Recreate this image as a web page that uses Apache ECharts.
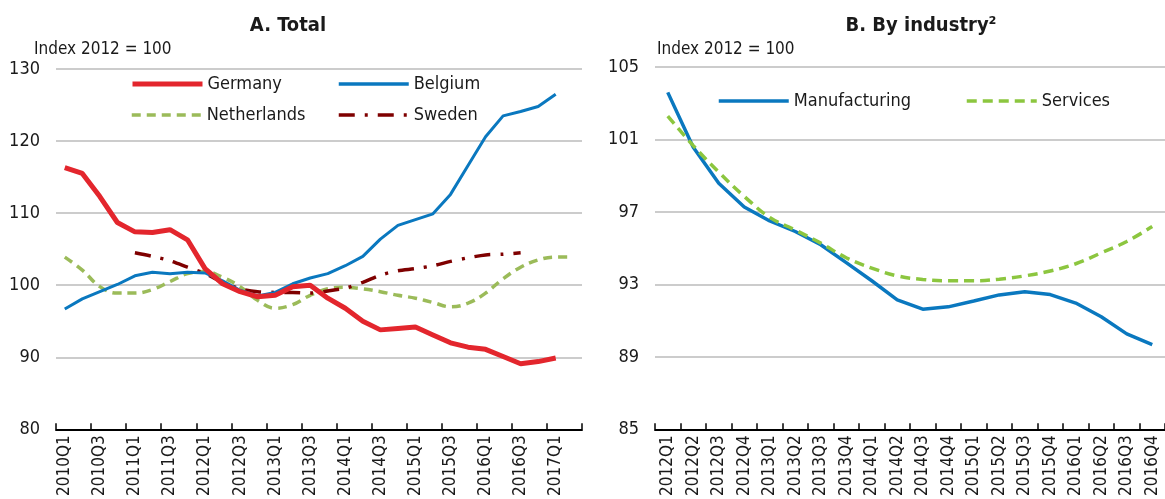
<!DOCTYPE html>
<html>
<head>
<meta charset="utf-8">
<script src="https://cdn.jsdelivr.net/npm/echarts@6/dist/echarts.min.js"></script>
<style>
html,body{margin:0;padding:0;background:#fff;}
#c{width:1165px;height:499px;}
</style>
</head>
<body>
<div id="c"></div>
<script>
// ---- Data ----
const leftCategories = ['2010Q1','2010Q2','2010Q3','2010Q4','2011Q1','2011Q2','2011Q3','2011Q4',
  '2012Q1','2012Q2','2012Q3','2012Q4','2013Q1','2013Q2','2013Q3','2013Q4',
  '2014Q1','2014Q2','2014Q3','2014Q4','2015Q1','2015Q2','2015Q3','2015Q4',
  '2016Q1','2016Q2','2016Q3','2016Q4','2017Q1','2017Q2'];
const germany = [116.3,115.5,112.3,108.7,107.4,107.3,107.7,106.3,102.3,100.2,99.1,98.4,98.6,99.8,100.0,98.2,
  96.8,95.0,93.8,94.0,94.2,93.1,92.0,91.4,91.1,90.1,89.1,89.4,89.9,null];
const belgium = [96.7,98.1,99.1,100.1,101.3,101.8,101.6,101.8,101.7,100.6,99.3,98.5,99.0,100.2,101.0,101.6,
  102.7,104.0,106.4,108.3,109.1,109.9,112.6,116.6,120.6,123.5,124.1,124.8,126.5,null];
const netherlands = [103.9,102.1,99.8,98.9,98.9,99.4,100.5,101.6,101.9,101.1,99.8,97.9,96.8,97.3,98.6,99.5,
  99.7,99.5,99.1,98.6,98.2,97.6,97.0,97.5,98.9,100.9,102.5,103.5,103.9,103.9];
const sweden = [null,null,null,null,104.5,104.0,103.4,102.5,101.6,100.4,99.5,99.1,99.0,99.0,98.9,99.2,
  99.6,100.4,101.4,102.0,102.3,102.7,103.3,103.8,104.2,104.3,104.5,null,null,null];

const rightCategories = ['2012Q1','2012Q2','2012Q3','2012Q4','2013Q1','2013Q2','2013Q3','2013Q4',
  '2014Q1','2014Q2','2014Q3','2014Q4','2015Q1','2015Q2','2015Q3','2015Q4',
  '2016Q1','2016Q2','2016Q3','2016Q4'];
const manufacturing = [103.6,100.57,98.58,97.27,96.5,95.92,95.19,94.2,93.2,92.15,91.63,91.76,
  92.08,92.42,92.6,92.44,91.97,91.21,90.27,89.68];
const services = [102.29,100.66,99.2,97.86,96.7,96.0,95.28,94.47,93.9,93.47,93.27,93.2,
  93.2,93.29,93.47,93.74,94.14,94.74,95.37,96.19];

const leftTicks = {min: 80, max: 130, interval: 10};
const rightTicks = {min: 85, max: 105, interval: 4};

// ---- Style ----
const FONT = "'Liberation Sans Narrow','Arial Narrow','DejaVu Sans Condensed',sans-serif";
const TXT = '#1a1a1a';
const RED = '#e3262d', BLUE = '#0a78bf', OLIVE = '#9bbb59', DKRED = '#7f0000', GREEN = '#8cc63f';

function xAxis(gridIndex, cats, interval){
  return {
    type: 'category', gridIndex, data: cats, boundaryGap: true,
    axisLine: {show: true, lineStyle: {color: '#000', width: 2}},
    axisTick: {show: true, inside: true, length: 6, interval, lineStyle: {color: '#000', width: 1.5}},
    axisLabel: {interval, rotate: 90, fontSize: 17, color: TXT, fontFamily: FONT, margin: 6},
    splitLine: {show: false}
  };
}
function yAxis(gridIndex, t){
  return {
    type: 'value', gridIndex, min: t.min, max: t.max, interval: t.interval,
    axisLine: {show: false}, axisTick: {show: false},
    axisLabel: {fontSize: 18, color: TXT, fontFamily: FONT, margin: 16},
    splitLine: {show: true, lineStyle: {color: '#cccccc', width: 2}}
  };
}
function leg(name, left, top, lw){
  return {data: [name], left, top, padding: 0, itemWidth: 70, itemHeight: 14,
    itemStyle: {opacity: 0}, lineStyle: {width: lw},
    textStyle: {fontSize: 18, color: TXT, fontFamily: FONT}, selectedMode: false};
}

const option = {
  backgroundColor: '#fff',
  animation: false,
  title: [
    {text: 'A. Total', left: 283, top: 11, textAlign: 'center',
     textStyle: {fontSize: 20, fontWeight: 'bold', color: TXT, fontFamily: FONT}},
    {text: 'B. By industry²', left: 916, top: 11, textAlign: 'center',
     textStyle: {fontSize: 20, fontWeight: 'bold', color: TXT, fontFamily: FONT}},
    {text: 'Index 2012 = 100', left: 29, top: 36,
     textStyle: {fontSize: 17, fontWeight: 'normal', color: TXT, fontFamily: FONT}},
    {text: 'Index 2012 = 100', left: 652, top: 36,
     textStyle: {fontSize: 17, fontWeight: 'normal', color: TXT, fontFamily: FONT}}
  ],
  legend: [
    leg('Germany', 130, 75, 5), leg('Belgium', 337, 75, 3.5),
    leg('Netherlands', 130, 106, 3.5), leg('Sweden', 337, 106, 3.5),
    leg('Manufacturing', 717, 92, 3.5), leg('Services', 965, 92, 3.5)
  ],
  grid: [
    {left: 56, top: 69, width: 526, height: 364},
    {left: 655, top: 67, width: 513, height: 367}
  ],
  xAxis: [xAxis(0, leftCategories, 1), xAxis(1, rightCategories, 0)],
  yAxis: [yAxis(0, leftTicks), yAxis(1, rightTicks)],
  series: [
    {name: 'Germany', type: 'line', xAxisIndex: 0, yAxisIndex: 0, data: germany, showSymbol: false, symbol: 'none',
     lineStyle: {color: RED, width: 5}, itemStyle: {color: RED}, z: 5},
    {name: 'Belgium', type: 'line', xAxisIndex: 0, yAxisIndex: 0, data: belgium, showSymbol: false, symbol: 'none',
     lineStyle: {color: BLUE, width: 3}, itemStyle: {color: BLUE}, z: 4},
    {name: 'Netherlands', type: 'line', xAxisIndex: 0, yAxisIndex: 0, data: netherlands, showSymbol: false, symbol: 'none',
     smooth: 0.4, lineStyle: {color: OLIVE, width: 3.5, type: [9, 6]}, itemStyle: {color: OLIVE}, z: 3},
    {name: 'Sweden', type: 'line', xAxisIndex: 0, yAxisIndex: 0, data: sweden, showSymbol: false, symbol: 'none',
     smooth: 0.3, lineStyle: {color: DKRED, width: 3.5, type: [16, 10, 3, 10]}, itemStyle: {color: DKRED}, z: 3},
    {name: 'Manufacturing', type: 'line', xAxisIndex: 1, yAxisIndex: 1, data: manufacturing, showSymbol: false, symbol: 'none',
     lineStyle: {color: BLUE, width: 3.5}, itemStyle: {color: BLUE}, z: 3},
    {name: 'Services', type: 'line', xAxisIndex: 1, yAxisIndex: 1, data: services, showSymbol: false, symbol: 'none',
     smooth: 0.4, lineStyle: {color: GREEN, width: 3.5, type: [10, 6]}, itemStyle: {color: GREEN}, z: 4}
  ]
};
const chart = echarts.init(document.getElementById('c'), null, {renderer: 'canvas'});
chart.setOption(option);
</script>
</body>
</html>
